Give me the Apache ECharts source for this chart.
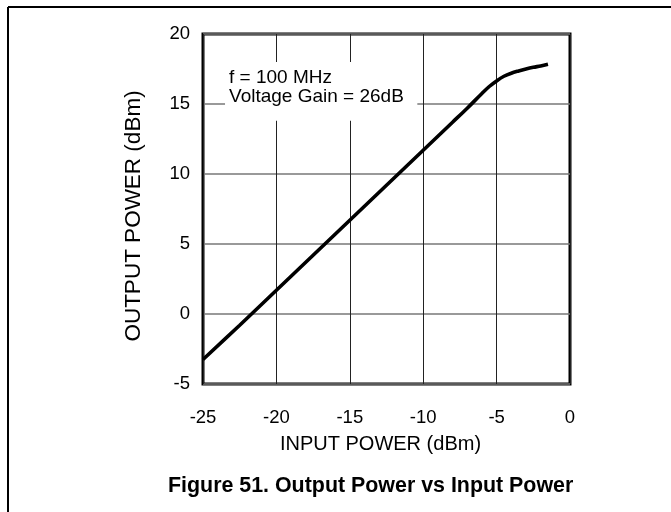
<!DOCTYPE html>
<html>
<head>
<meta charset="utf-8">
<script src="https://cdn.jsdelivr.net/npm/echarts@6/dist/echarts.min.js"></script>
<style>
  html, body { margin: 0; padding: 0; background: #fff; }
  #chart { width: 671px; height: 512px; }
</style>
</head>
<body>
<div id="chart"></div>
<script>
// Data
const inputPower = [-25, -22.5, -20, -17.5, -15, -12.5, -10, -8, -7, -6, -5.5, -5, -4.5, -4, -3.5, -3, -2.5, -2, -1.5];
const outputPower = [-3.25, -0.8, 1.7, 4.2, 6.7, 9.2, 11.7, 13.7, 14.7, 15.75, 16.25, 16.65, 16.98, 17.2, 17.36, 17.5, 17.62, 17.72, 17.84];
const xTicks = [-25, -20, -15, -10, -5, 0];
const yTicks = [-5, 0, 5, 10, 15, 20];
const annotationLines = ['f = 100 MHz', 'Voltage Gain = 26dB'];
const xTitle = 'INPUT POWER (dBm)';
const yTitle = 'OUTPUT POWER (dBm)';
const figTitle = 'Figure 51. Output Power vs Input Power';

const FONT = '"Liberation Sans", Arial, Helvetica, sans-serif';
const chart = echarts.init(document.getElementById('chart'), null, { renderer: 'canvas' });

const frame = [
  { type: 'line', shape: { x1: 8, y1: 7, x2: 671, y2: 7 }, style: { stroke: '#000', lineWidth: 2 } },
  { type: 'line', shape: { x1: 8, y1: 7, x2: 8, y2: 512 }, style: { stroke: '#000', lineWidth: 2 } }
];

const option = {
  animation: false,
  backgroundColor: '#fff',
  title: {
    text: figTitle,
    left: 168,
    top: 476,
    padding: 0,
    textStyle: { fontFamily: FONT, fontSize: 21.4, fontWeight: 'bold', color: '#000' }
  },
  grid: {
    left: 203, right: 101, top: 34, bottom: 128,
    show: true, borderColor: '#000', borderWidth: 3, backgroundColor: 'transparent'
  },
  xAxis: {
    type: 'value',
    min: xTicks[0], max: xTicks[xTicks.length - 1], interval: 5,
    name: xTitle, nameLocation: 'middle', nameGap: 50,
    nameTextStyle: { fontFamily: FONT, fontSize: 20, color: '#000', padding: [0, 12, 0, 0] },
    axisLine: { show: false },
    axisTick: { show: false },
    axisLabel: { fontFamily: FONT, fontSize: 18.5, color: '#000', margin: 24 },
    splitLine: { show: true, lineStyle: { color: '#222', width: 1 } }
  },
  yAxis: {
    type: 'value',
    min: yTicks[0], max: yTicks[yTicks.length - 1], interval: 5,
    name: yTitle, nameLocation: 'middle', nameGap: 58, nameRotate: 90,
    nameTextStyle: { fontFamily: FONT, fontSize: 22.5, color: '#000', padding: [0, 14, 0, 0] },
    axisLine: { show: false },
    axisTick: { show: false },
    axisLabel: { fontFamily: FONT, fontSize: 18.5, color: '#000', margin: 13 },
    splitLine: { show: true, lineStyle: { color: '#777', width: 1.5 } }
  },
  series: [{
    type: 'line',
    data: inputPower.map((x, i) => [x, outputPower[i]]),
    symbol: 'none',
    smooth: 0.35,
    lineStyle: { color: '#000', width: 3.6 },
    z: 5
  }],
  graphic: frame
};
chart.setOption(option);

// Annotation box anchored in data coordinates
const tl = chart.convertToPixel({ gridIndex: 0 }, [-23.5, 18.0]);
const br = chart.convertToPixel({ gridIndex: 0 }, [-10.4, 13.8]);
chart.setOption({
  graphic: frame.concat([
    { type: 'rect', shape: { x: tl[0], y: tl[1], width: br[0] - tl[0], height: br[1] - tl[1] }, style: { fill: '#fff' }, z: 10 },
    { type: 'text', x: tl[0] + 4, y: tl[1] + 6, z: 11,
      style: { text: annotationLines.join('\n'), fontFamily: FONT, fontSize: 19, lineHeight: 19.5, fill: '#000' } }
  ])
});
</script>
</body>
</html>
